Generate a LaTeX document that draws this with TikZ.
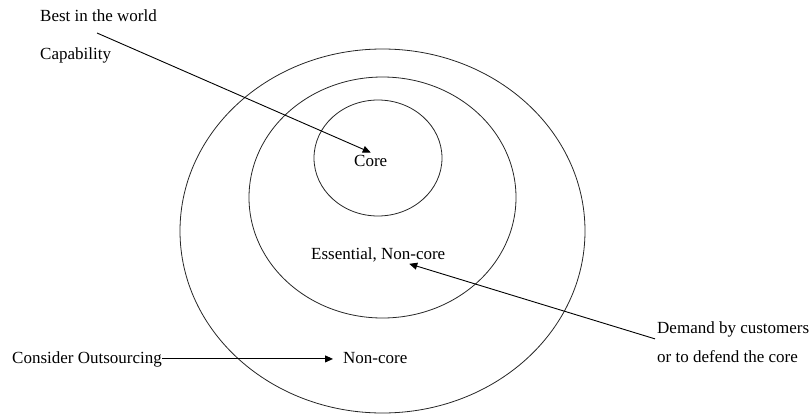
\documentclass[tikz,border=0pt]{standalone}
\usepackage{fontspec}
\setmainfont{Liberation Serif}
\usetikzlibrary{shapes.geometric, arrows.meta, positioning, calc}

\begin{document}
\begin{tikzpicture}[
  x=1pt, y=-1pt,
  font=\fontsize{17}{20}\selectfont,
  ring/.style={ellipse, draw, line width=0.8pt, draw=black!85, inner sep=0pt},
  label/.style={anchor=base west, inner sep=2pt},
  arrow/.style={line width=0.9pt, -{Triangle[length=8pt, width=7pt]}}
]
\useasboundingbox (0,0) rectangle (811,415);

% Rings
\node[ring, minimum width=405pt, minimum height=364pt] (outer) at (382.5,231) {};
\node[ring, minimum width=267pt, minimum height=241pt] (middle) at (382.5,197.5) {};
\node[ring, minimum width=128pt, minimum height=116pt] (inner) at (378,158) {};

% Labels
\node[label] (core) at (352,166) {Core};
\node[label] (ess) at (309,259) {Essential, Non-core};
\node[label] (noncore) at (341,363) {Non-core};
\node[label] (best) at (38,21) {Best in the world};
\node[label] (capab) at (38,59) {Capability};
\node[label, inner sep=0pt] (consider) at (12,363) {Consider Outsourcing};
\node[label] (demand1) at (655,333) {Demand by customers};
\node[label] (demand2) at (655,362) {or to defend the core};

\coordinate (capstart) at (97,33);

% Arrows
\draw[arrow] (capstart) -- (core.north);
\draw[arrow, shorten >=8pt] (consider.east) -- (consider.east -| noncore.west);
\draw[arrow] (demand1.south west) -- ([xshift=31pt]ess.south);

\end{tikzpicture}
\end{document}
